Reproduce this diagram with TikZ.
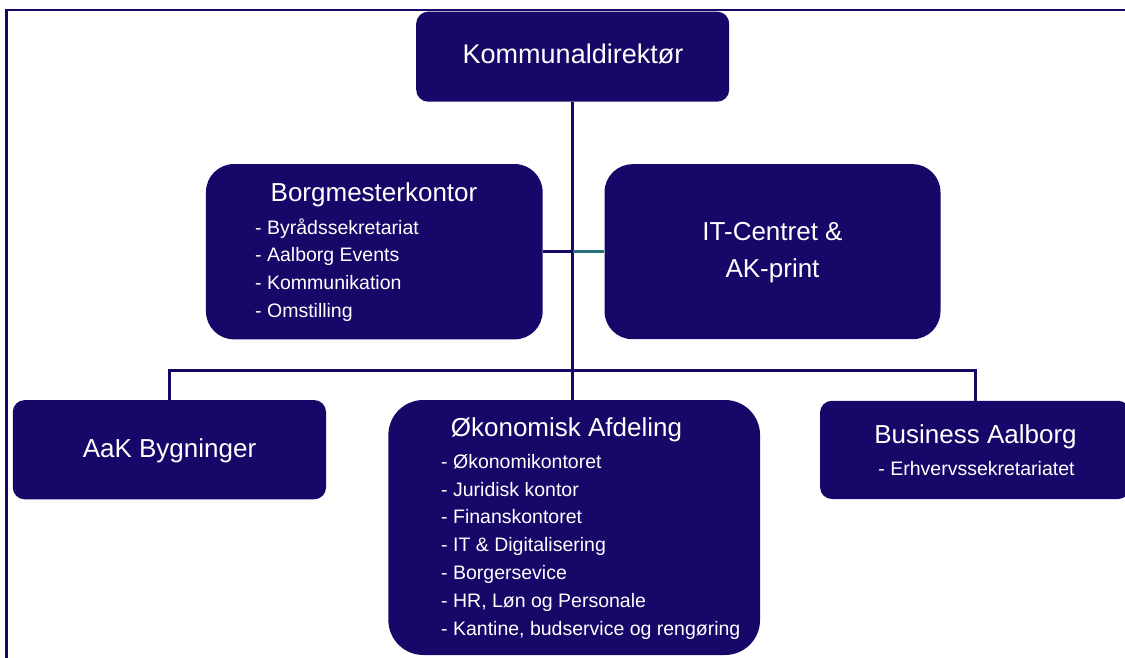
\documentclass[tikz,border=0pt]{standalone}
\usepackage{fontspec}
\setmainfont{Liberation Sans}
\definecolor{orgnavy}{RGB}{22,7,104}
\definecolor{orgteal}{RGB}{38,112,122}

\begin{document}
\begin{tikzpicture}[x=1pt, y=-1pt,
    unitbox/.style={fill=orgnavy, draw=none, inner sep=0pt},
    headtxt/.style={text=white, font=\fontsize{26}{30}\selectfont, anchor=base, inner sep=0pt},
    itemtxt/.style={text=white, font=\fontsize{19.5}{24}\selectfont, anchor=base west, inner sep=0pt},
    link/.style={orgnavy, line width=3pt}]
    \useasboundingbox (0,0) rectangle (1125,658);
    \draw[orgnavy, line width=2.4pt] (6.5,10) rectangle (1140,670);
    % boxes
    \node[unitbox, rounded corners=12pt, minimum width=313pt, minimum height=90pt] (kd) at (572.7,56.7) {};
    \node[unitbox, rounded corners=28pt, minimum width=336.7pt, minimum height=175.3pt] (bm) at (374.3,251.7) {};
    \node[unitbox, rounded corners=28pt, minimum width=336pt, minimum height=175pt] (it) at (772.5,251.7) {};
    \node[unitbox, rounded corners=12pt, minimum width=313.3pt, minimum height=99.3pt] (ab) at (169.4,449.7) {};
    \node[unitbox, rounded corners=35pt, minimum width=371.7pt, minimum height=255pt] (oa) at (574.2,527.5) {};
    \node[unitbox, rounded corners=12pt, minimum width=310pt, minimum height=98.3pt] (ba) at (975,449.9) {};
    % connectors
    \coordinate (bus) at (0,370);
    \draw[link] (kd.south) -- (kd.south |- oa.north);
    \draw[link] (ab.north) -- (ab.north |- bus) -- (ba.north |- bus) -- (ba.north);
    \draw[link] (bm.east) -- (bm.east -| kd.south);
    \draw[link, orgteal] (bm.east -| kd.south) -- (it.west);
    % texts
    \node[headtxt, font=\fontsize{27}{30}\selectfont] (kdtxt) at (573,63.5) {Kommunaldirektør};
    \node[headtxt] (bmtxt) at (374,201.7) {Borgmesterkontor};
    \foreach \t [count=\i from 0] in {Byrådssekretariat, Aalborg Events, Kommunikation, Omstilling}
        \node[itemtxt] (bm-\i) at (255,234+27.7*\i) {- \t};
    \node[headtxt] (ittxt) at (772.5,240.3) {IT-Centret \&};
    \node[headtxt] (ittxt2) at (772.5,277) {AK-print};
    \node[headtxt] (abtxt) at (169.5,457.3) {AaK Bygninger};
    \node[headtxt] (oatxt) at (566.5,436.7) {Økonomisk Afdeling};
    \foreach \t [count=\i from 0] in {Økonomikontoret, Juridisk kontor, Finanskontoret, IT \& Digitalisering, Borgersevice, {HR, Løn og Personale}, {Kantine, budservice og rengøring}}
        \node[itemtxt] (oa-\i) at (441,468.3+27.8*\i) {- \t};
    \node[headtxt] (batxt) at (975.5,443.3) {Business Aalborg};
    \node[itemtxt, anchor=base] (ba-0) at (976.5,475) {- Erhvervssekretariatet};
\end{tikzpicture}
\end{document}
